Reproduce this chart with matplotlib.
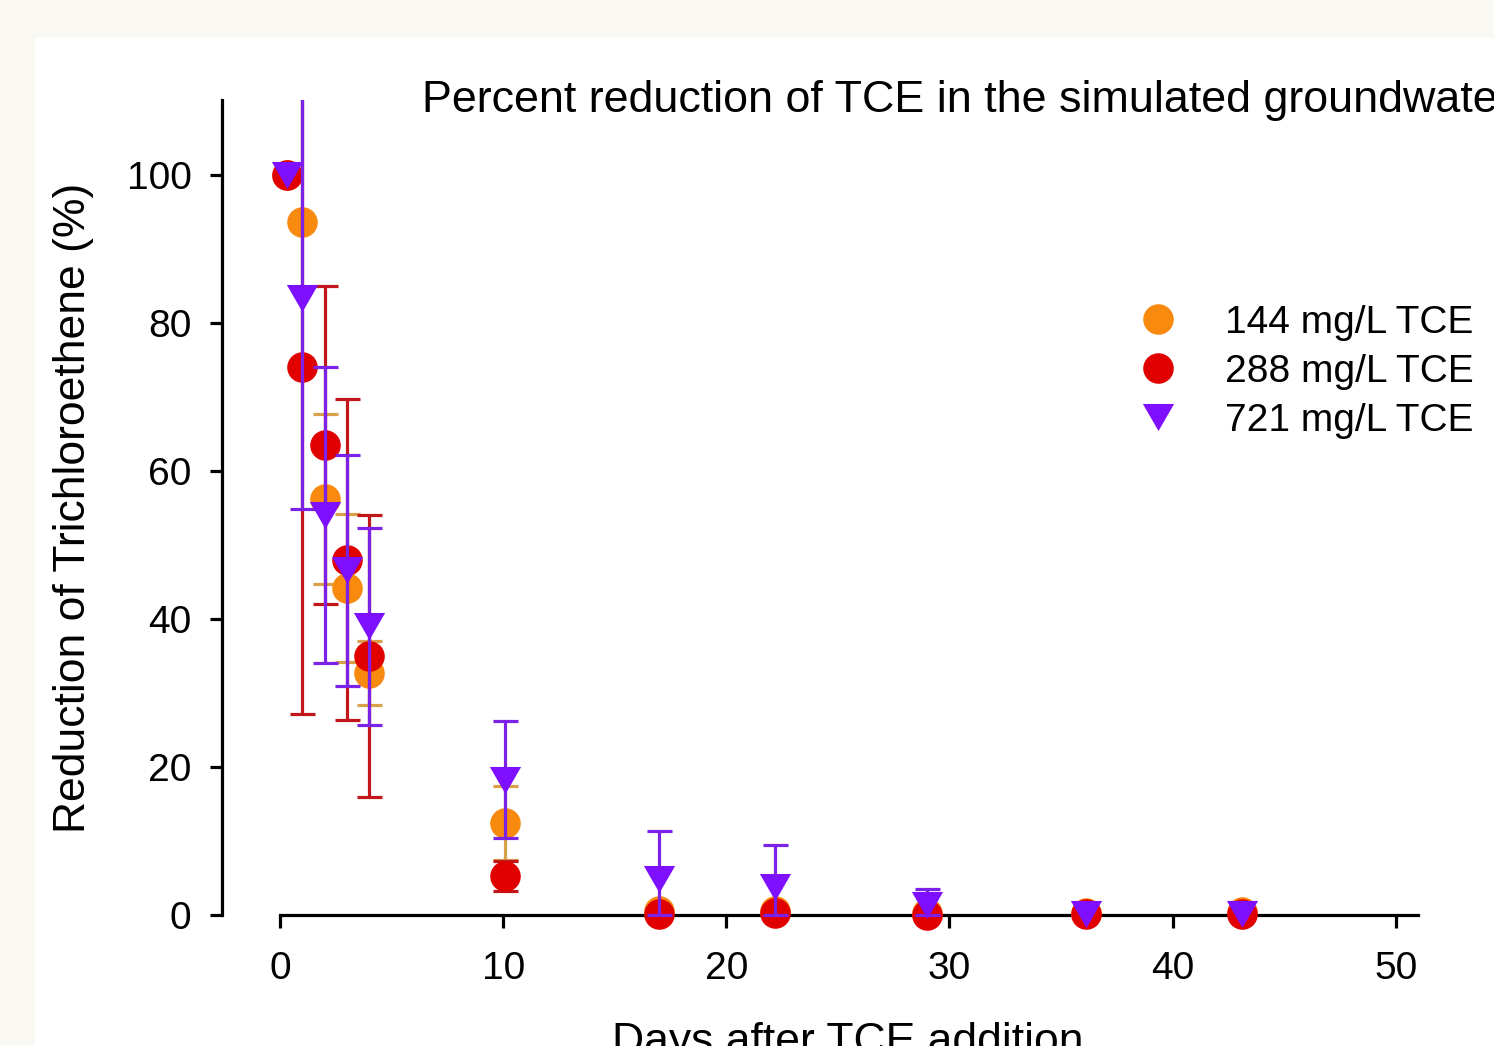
import matplotlib
matplotlib.use("Agg")
import matplotlib.pyplot as plt
from matplotlib.patches import Rectangle
import numpy as np

plt.rcParams['font.family'] = ['Liberation Sans', 'DejaVu Sans']

# ---- data ----
days = [0.3, 1.0, 2.0, 3.0, 4.0, 10.1, 17.0, 22.2, 29.0, 36.1, 43.1]
tce144 = [100.0, 93.6, 56.2, 44.2, 32.7, 12.4, 0.6, 0.5, 0.3, 0.3, 0.4]
tce144_err = [0.0, 0.0, 11.5, 10.0, 4.3, 5.0, 0.0, 0.0, 0.0, 0.0, 0.0]
tce288 = [100.0, 74.0, 63.5, 48.0, 35.0, 5.3, 0.2, 0.3, 0.0, 0.1, 0.1]
tce288_err = [0.0, 46.8, 21.5, 21.7, 19.0, 2.0, 0.0, 0.0, 0.0, 0.0, 0.0]
tce721 = [100.0, 83.3, 54.0, 46.6, 39.0, 18.3, 4.8, 3.8, 1.3, 0.1, 0.1]
tce721_err = [0.0, 28.5, 20.0, 15.6, 13.3, 7.9, 6.6, 5.7, 2.2, 0.0, 0.0]
labels = ["144 mg/L TCE", "288 mg/L TCE", "721 mg/L TCE"]
xticks = [0, 10, 20, 30, 40, 50]
yticks = [0, 20, 40, 60, 80, 100]

W, H = 1494, 1046
fig = plt.figure(figsize=(W / 100, H / 100), dpi=100, facecolor='#f9f8f3')
bg = Rectangle((35 / W, 0), 1 - 35 / W, 1 - 38 / H,
               transform=fig.transFigure, facecolor='white',
               edgecolor='none', zorder=-10)
fig.add_artist(bg)

ax = fig.add_axes([222 / W, (H - 945) / H, (1418 - 222) / W, 845 / H])
ax.set_facecolor('none')
ax.set_zorder(5)

# equilateral down-pointing triangle marker
tri_down = [(-1.0, 0.866), (1.0, 0.866), (0.0, -0.866), (-1.0, 0.866)]

series = [
    (tce144, tce144_err, '#f98a10', '#d9a04a', 'o', 22),
    (tce288, tce288_err, '#e00000', '#c0161c', 'o', 22),
    (tce721, tce721_err, '#7f10ff', '#7b22e6', tri_down, 22.5),
]
handles = []
z = 2
for (vals, err, mcol, ecol, mk, ms), lab in zip(series, labels):
    v = np.asarray(vals)
    e = np.asarray(err)
    d = np.asarray(days)
    lower = np.minimum(e, np.clip(v, 0, None))   # bars do not go below zero
    has = e > 0
    ax.errorbar(d[has], v[has], yerr=[lower[has], e[has]], fmt='none',
                ecolor=ecol, elinewidth=2.3, capsize=9, capthick=2.3,
                zorder=z)
    h, = ax.plot(days, vals, linestyle='none', marker=mk, markersize=ms,
                 color=mcol, markeredgewidth=0, zorder=z + 1, clip_on=False,
                 label=lab)
    handles.append(h)
    z += 2

ax.set_xlim(-2.6, 51.0)
ax.set_ylim(-4.05, 110.1)

for s in ['top', 'right']:
    ax.spines[s].set_visible(False)
ax.spines['bottom'].set_position(('data', 0))
ax.spines['bottom'].set_bounds(0, 51)
ax.spines['left'].set_bounds(0, 110.1)
for s in ['bottom', 'left']:
    ax.spines[s].set_linewidth(2.3)
    ax.spines[s].set_zorder(1)

ax.set_xticks(xticks)
ax.set_yticks(yticks)
ax.tick_params(axis='both', direction='out', length=9, width=2.3,
               labelsize=28, colors='black')
ax.tick_params(axis='x', pad=17)
ax.tick_params(axis='y', pad=13)

fig.text(422 / W, 1 - 112 / H,
         "Percent reduction of TCE in the simulated groundwater",
         ha='left', va='baseline', fontsize=32.3)
fig.text(74 / W, 1 - 508 / H, "Reduction of Trichloroethene (%)",
         rotation=90, ha='center', va='center', fontsize=32)
fig.text(848 / W, 1 - 1054 / H, "Days after TCE addition",
         ha='center', va='baseline', fontsize=32)

leg = ax.legend(handles=handles, loc='upper left', frameon=False,
                fontsize=28, handlelength=1.0, handletextpad=1.2,
                labelspacing=0.33, borderpad=0, borderaxespad=0,
                bbox_to_anchor=(1139 / W, 1 - 305 / H),
                bbox_transform=fig.transFigure, markerscale=1.0)

fig.savefig('out.png', dpi=100, facecolor=fig.get_facecolor())
